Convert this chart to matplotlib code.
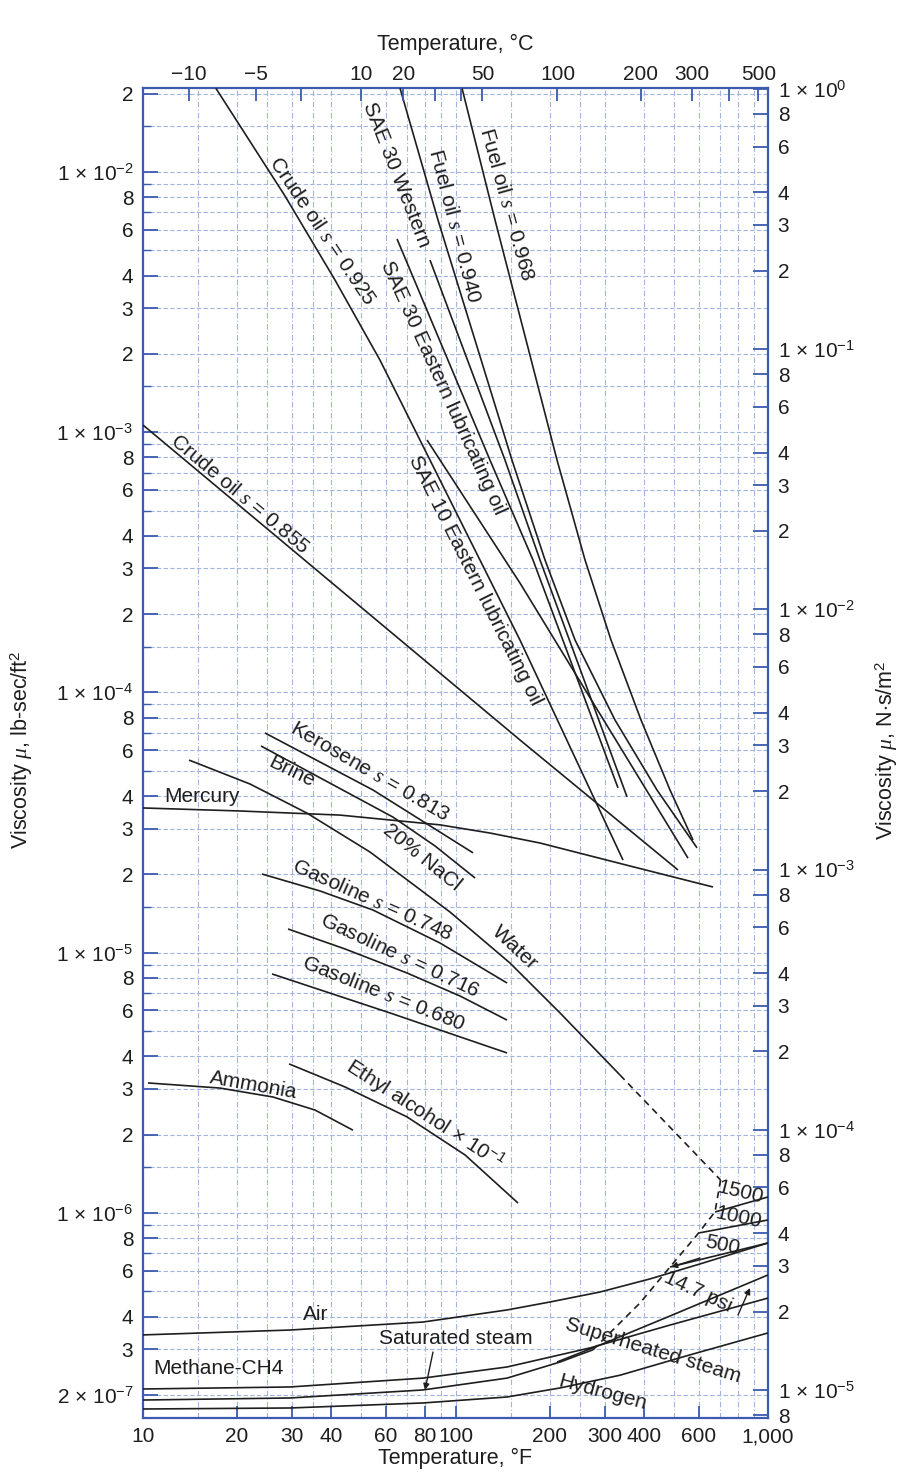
import matplotlib
matplotlib.use('Agg')
import matplotlib.pyplot as plt
from matplotlib.ticker import FixedLocator, FixedFormatter, NullFormatter

plt.rcParams['font.family'] = ['Liberation Sans', 'DejaVu Sans']
plt.rcParams['mathtext.fontset'] = 'custom'
plt.rcParams['mathtext.rm'] = 'Liberation Sans'
plt.rcParams['mathtext.it'] = 'Liberation Serif:italic'
plt.rcParams['mathtext.bf'] = 'Liberation Sans:bold'
plt.rcParams['axes.unicode_minus'] = True

# ---------------- data (temperature in °F, viscosity in lb-sec/ft^2) ----------------
crude925_T = [17.1, 28.47, 41.15, 57.3, 82.86, 160.8, 343.6]
crude925_mu = [2.10e-2, 8.09e-3, 3.846e-3, 1.895e-3, 7.82e-4, 1.591e-4, 2.27e-5]

crude855_T = [10, 160.8, 515.2]
crude855_mu = [1.066e-3, 6.57e-5, 2.08e-5]

sae30e_T = [65.0, 128.9, 177.0, 331.1]
sae30e_mu = [5.53e-3, 7.82e-4, 3.23e-4, 4.30e-5]

sae30w_T = [82.86, 144.0, 186.4, 353.9]
sae30w_mu = [4.59e-3, 7.82e-4, 3.23e-4, 3.97e-5]

fuel940_T = [66.44, 87.9, 151.6, 193.4, 241.3, 323.9, 441.3, 592.6]
fuel940_mu = [2.10e-2, 6.54e-3, 7.82e-4, 3.23e-4, 1.591e-4, 7.84e-5, 4.22e-5, 2.53e-5]

fuel968_T = [104.9, 133.8, 211.3, 259.7, 314.5, 392.3, 485.8, 575.4]
fuel968_mu = [2.10e-2, 6.54e-3, 7.82e-4, 3.23e-4, 1.591e-4, 7.84e-5, 4.22e-5, 2.71e-5]

sae10_T = [81.05, 160.8, 554.6]
sae10_mu = [9.34e-4, 2.634e-4, 2.31e-5]

kerosene_T = [24.57, 54.45, 113.8]
kerosene_mu = [6.99e-5, 4.22e-5, 2.42e-5]

brine_T = [23.85, 63.1, 86.0, 115.5]
brine_mu = [6.23e-5, 3.32e-5, 2.572e-5, 1.937e-5]

water_T = [14.04, 22.0, 33.48, 53.26, 96.0, 149.4, 216.0, 336.0]
water_mu = [5.50e-5, 4.45e-5, 3.44e-5, 2.438e-5, 1.434e-5, 9.13e-6, 5.87e-6, 3.39e-6]
water_dash_T = [336.0, 705.0]
water_dash_mu = [3.39e-6, 1.339e-6]

mercury_T = [10, 20.44, 42.7, 89.2, 128.9, 186.4, 361.8, 666.8]
mercury_mu = [3.60e-5, 3.505e-5, 3.38e-5, 3.10e-5, 2.884e-5, 2.64e-5, 2.154e-5, 1.789e-5]

gas748_T = [24.03, 36.85, 54.45, 89.2, 146.2]
gas748_mu = [2.007e-5, 1.727e-5, 1.459e-5, 1.09e-5, 7.65e-6]
gas716_T = [29.11, 44.3, 69.95, 103.4, 146.2]
gas716_mu = [1.234e-5, 1.034e-5, 8.36e-6, 6.82e-6, 5.51e-6]
gas680_T = [25.87, 61.72, 146.2]
gas680_mu = [8.29e-6, 5.87e-6, 4.12e-6]

ammonia_T = [10.37, 17.64, 26.06, 35.5, 46.99]
ammonia_mu = [3.16e-6, 3.02e-6, 2.79e-6, 2.487e-6, 2.08e-6]

ethyl_T = [29.33, 44.3, 69.95, 107.3, 158.5]
ethyl_mu = [3.74e-6, 3.05e-6, 2.34e-6, 1.671e-6, 1.092e-6]

air_T = [10, 29.55, 78.7, 146.2, 200.7, 290.1, 419.2, 605.9, 1000]
air_mu = [3.40e-7, 3.55e-7, 3.81e-7, 4.24e-7, 4.55e-7, 4.97e-7, 5.58e-7, 6.37e-7, 7.67e-7]

methane_T = [10, 29.55, 78.7, 146.2, 269.4, 485.8, 1000]
methane_mu = [2.107e-7, 2.145e-7, 2.32e-7, 2.56e-7, 3.03e-7, 3.71e-7, 4.71e-7]

satsteam_T = [10, 29.55, 78.7, 146.2, 216.0, 275.4]
satsteam_mu = [1.911e-7, 1.946e-7, 2.089e-7, 2.32e-7, 2.675e-7, 2.98e-7]
satsteam_dash_T = [275.4, 389.4, 485.8, 592.6, 637.9, 676.7, 705.0]
satsteam_dash_mu = [2.98e-7, 4.51e-7, 6.20e-7, 8.23e-7, 9.23e-7, 1.009e-6, 1.339e-6]

steam14_T = [211.3, 290.1, 485.8, 1000]
steam14_mu = [2.675e-7, 3.11e-7, 4.02e-7, 5.78e-7]
steam500_T = [485.8, 1000]
steam500_mu = [6.20e-7, 7.67e-7]
steam1000_T = [601.4, 1000]
steam1000_mu = [8.38e-7, 9.40e-7]
steam1500_T = [676.7, 1000]
steam1500_mu = [1.009e-6, 1.152e-6]

hydrogen_T = [10, 29.55, 78.7, 146.2, 216.0, 336.0, 562.9, 1000]
hydrogen_mu = [1.765e-7, 1.781e-7, 1.862e-7, 1.963e-7, 2.126e-7, 2.38e-7, 2.85e-7, 3.46e-7]

# ---------------- ticks ----------------
bottom_ticks = [10, 20, 30, 40, 60, 80, 100, 200, 300, 400, 600, 1000]
bottom_labels = ['10', '20', '30', '40', '60', '80', '100', '200', '300', '400', '600', '1,000']

top_ticks_C = [-10, -5, 0, 10, 20, 30, 40, 50, 100, 200, 300, 400, 500]
top_labels_C = ['\u221210', '\u22125', '', '10', '20', '', '', '50', '100', '200', '300', '', '500']

left_ticks = [2e-2, 1e-2, 8e-3, 6e-3, 4e-3, 3e-3, 2e-3,
              1e-3, 8e-4, 6e-4, 4e-4, 3e-4, 2e-4,
              1e-4, 8e-5, 6e-5, 4e-5, 3e-5, 2e-5,
              1e-5, 8e-6, 6e-6, 4e-6, 3e-6, 2e-6,
              1e-6, 8e-7, 6e-7, 4e-7, 3e-7, 2e-7]
left_labels = ['2', r'1 $\times$ 10$^{-2}$', '8', '6', '4', '3', '2',
               r'1 $\times$ 10$^{-3}$', '8', '6', '4', '3', '2',
               r'1 $\times$ 10$^{-4}$', '8', '6', '4', '3', '2',
               r'1 $\times$ 10$^{-5}$', '8', '6', '4', '3', '2',
               r'1 $\times$ 10$^{-6}$', '8', '6', '4', '3', r'2 $\times$ 10$^{-7}$']

right_ticks = [1.0, 8e-1, 6e-1, 4e-1, 3e-1, 2e-1,
               1e-1, 8e-2, 6e-2, 4e-2, 3e-2, 2e-2,
               1e-2, 8e-3, 6e-3, 4e-3, 3e-3, 2e-3,
               1e-3, 8e-4, 6e-4, 4e-4, 3e-4, 2e-4,
               1e-4, 8e-5, 6e-5, 4e-5, 3e-5, 2e-5,
               1e-5, 8e-6]
right_labels = [r'1 $\times$ 10$^{0}$', '8', '6', '4', '3', '2',
                r'1 $\times$ 10$^{-1}$', '8', '6', '4', '3', '2',
                r'1 $\times$ 10$^{-2}$', '8', '6', '4', '3', '2',
                r'1 $\times$ 10$^{-3}$', '8', '6', '4', '3', '2',
                r'1 $\times$ 10$^{-4}$', '8', '6', '4', '3', '2',
                r'1 $\times$ 10$^{-5}$', '8']

grid_x = [15, 20, 25, 30, 35, 40, 50, 60, 70, 80, 90, 100, 150, 200, 250,
          300, 400, 500, 600, 700, 800, 900]
grid_mult = [1, 1.5, 2, 3, 4, 5, 6, 7, 8, 9]

LB_TO_SI = 47.88
YMIN, YMAX = 1.63e-7, 2.103e-2

BLUE = '#3b5bb0'
GRID = '#a3b5df'
INK = '#1e1e1e'

W, H = 901, 1472
fig = plt.figure(figsize=(W / 100, H / 100), dpi=100)
ax = fig.add_axes([143 / W, 1 - 1418 / H, (768 - 143) / W, (1418 - 88) / H])
ax.set_xscale('log')
ax.set_yscale('log')
ax.set_xlim(10, 1000)
ax.set_ylim(YMIN, YMAX)

# grid
for gx in grid_x:
    ax.axvline(gx, color=GRID, lw=0.8, ls=(0, (5, 2, 1, 2)), zorder=0)
for e in range(-7, -1):
    for m in grid_mult:
        v = m * 10.0 ** e
        if YMIN < v < YMAX:
            ax.axhline(v, color=GRID, lw=0.8, ls=(0, (4, 2)), zorder=0)

lw = 1.2
solid = [
    (crude925_T, crude925_mu), (crude855_T, crude855_mu),
    (sae30e_T, sae30e_mu), (sae30w_T, sae30w_mu),
    (fuel940_T, fuel940_mu), (fuel968_T, fuel968_mu),
    (sae10_T, sae10_mu), (kerosene_T, kerosene_mu), (brine_T, brine_mu),
    (water_T, water_mu), (mercury_T, mercury_mu),
    (gas748_T, gas748_mu), (gas716_T, gas716_mu), (gas680_T, gas680_mu),
    (ammonia_T, ammonia_mu), (ethyl_T, ethyl_mu),
    (air_T, air_mu), (methane_T, methane_mu), (satsteam_T, satsteam_mu),
    (steam14_T, steam14_mu), (steam500_T, steam500_mu),
    (steam1000_T, steam1000_mu), (steam1500_T, steam1500_mu),
    (hydrogen_T, hydrogen_mu),
]
for t, m in solid:
    ax.plot(t, m, color=INK, lw=lw, solid_capstyle='butt',
            solid_joinstyle='round', zorder=3)
for t, m in [(water_dash_T, water_dash_mu), (satsteam_dash_T, satsteam_dash_mu)]:
    ax.plot(t, m, color=INK, lw=lw, ls=(0, (4, 3)), zorder=3)

# spines & ticks
for s in ax.spines.values():
    s.set_color(BLUE)
    s.set_linewidth(1.6)

ax.xaxis.set_major_locator(FixedLocator(bottom_ticks))
ax.xaxis.set_major_formatter(FixedFormatter(bottom_labels))
ax.xaxis.set_minor_formatter(NullFormatter())
ax.xaxis.set_minor_locator(FixedLocator([]))
ax.yaxis.set_major_locator(FixedLocator(left_ticks))
ax.yaxis.set_major_formatter(FixedFormatter(left_labels))
minor_y = [m * 10.0 ** e for e in range(-7, -1) for m in (1.5, 5, 7, 9)]
ax.yaxis.set_minor_locator(FixedLocator([v for v in minor_y if YMIN < v < YMAX]))
ax.yaxis.set_minor_formatter(NullFormatter())
ax.tick_params(axis='x', which='major', direction='in', length=9, width=1.3,
               color=BLUE, labelsize=15, pad=6.5, top=False)
ax.tick_params(axis='y', which='major', direction='in', length=11, width=1.3,
               color=BLUE, labelsize=15, pad=7, right=False)
ax.tick_params(axis='y', which='minor', direction='in', length=6, width=1.0,
               color=BLUE, right=False)

# top axis in °C
axt = ax.twiny()
axt.set_xscale('log')
axt.set_xlim(ax.get_xlim())
axt.xaxis.set_major_locator(FixedLocator([c * 1.8 + 32 for c in top_ticks_C]))
axt.xaxis.set_major_formatter(FixedFormatter(top_labels_C))
axt.xaxis.set_minor_locator(FixedLocator([]))
axt.tick_params(axis='x', direction='in', length=9, width=1.3, color=BLUE,
                labelsize=15, pad=3)
for s in axt.spines.values():
    s.set_visible(False)

# right axis in N·s/m²
axr = ax.twinx()
axr.set_yscale('log')
axr.set_ylim(YMIN * LB_TO_SI, YMAX * LB_TO_SI)
axr.yaxis.set_major_locator(FixedLocator(right_ticks))
axr.yaxis.set_major_formatter(FixedFormatter(right_labels))
axr.yaxis.set_minor_locator(FixedLocator([]))
axr.tick_params(axis='y', direction='in', length=11, width=1.3, color=BLUE,
                labelsize=15, pad=7)
for s in axr.spines.values():
    s.set_visible(False)

for a in (ax, axt, axr):
    for lab in a.get_xticklabels() + a.get_yticklabels():
        lab.set_color(INK)


def fp(x, y):
    return (x / W, 1 - y / H)


def label(txt, x, y, rot, size=15):
    fig.text(*fp(x, y), txt, rotation=rot, ha='center', va='center',
             rotation_mode='anchor', fontsize=size, color=INK)


label(r'Crude oil $s$ = 0.925', 322, 231, -56)
label('SAE 30 Western', 396, 175, -68.5)
label(r'Fuel oil $s$ = 0.940', 454, 226, -75.5)
label(r'Fuel oil $s$ = 0.968', 506, 204, -74.5)
label('SAE 30 Eastern lubricating oil', 443, 388, -65.5)
label('SAE 10 Eastern lubricating oil', 475, 580, -63.5)
label(r'Crude oil $s$ = 0.855', 240, 494, -40)
label(r'Kerosene $s$ = 0.813', 370, 772, -30)
label('Brine', 292, 772, -26)
label('20% NaCl', 422, 857, -39)
label('Mercury', 202, 796, 0)
label('Water', 515, 948, -43)
label(r'Gasoline $s$ = 0.748', 372, 900, -24)
label(r'Gasoline $s$ = 0.716', 400, 956, -25)
label(r'Gasoline $s$ = 0.680', 384, 994, -21.5)
label('Ammonia', 253, 1085, -10)
label(r'Ethyl alcohol $\times$ 10$^{-1}$', 425, 1114, -33)
label('Air', 316, 1314, 0)
label('Saturated steam', 456, 1338, 0)
label('Methane-CH4', 218, 1368, 0)
label('Superheated steam', 653, 1351, -17)
label('Hydrogen', 603, 1393, -15)
label('14.7 psi', 698, 1292, -25)
label('500', 722, 1245, -12)
label('1000', 738, 1217, -12)
label('1500', 740, 1192, -14)

arrowprops = dict(arrowstyle='-|>', color=INK, lw=1.0, mutation_scale=9,
                  shrinkA=0, shrinkB=0)
ax.annotate('', xy=fp(425, 1390), xytext=fp(433, 1352), xycoords='figure fraction',
            textcoords='figure fraction', arrowprops=arrowprops)
ax.annotate('', xy=fp(750, 1288), xytext=fp(738, 1315), xycoords='figure fraction',
            textcoords='figure fraction', arrowprops=arrowprops)
ax.annotate('', xy=fp(671, 1267), xytext=fp(700, 1258), xycoords='figure fraction',
            textcoords='figure fraction', arrowprops=arrowprops)

# axis titles
fig.text(*fp(455, 44), 'Temperature, °C', ha='center', va='center', fontsize=15.5, color=INK)
fig.text(*fp(455, 1458), 'Temperature, °F', ha='center', va='center', fontsize=15.5, color=INK)
fig.text(*fp(22, 750), r'Viscosity $\mu$, lb-sec/ft$^2$', rotation=90, ha='center',
         va='center', fontsize=15.5, color=INK)
fig.text(*fp(887, 750), r'Viscosity $\mu$, N$\cdot$s/m$^2$', rotation=90, ha='center',
         va='center', fontsize=15.5, color=INK)

fig.savefig('out.png', dpi=100)
